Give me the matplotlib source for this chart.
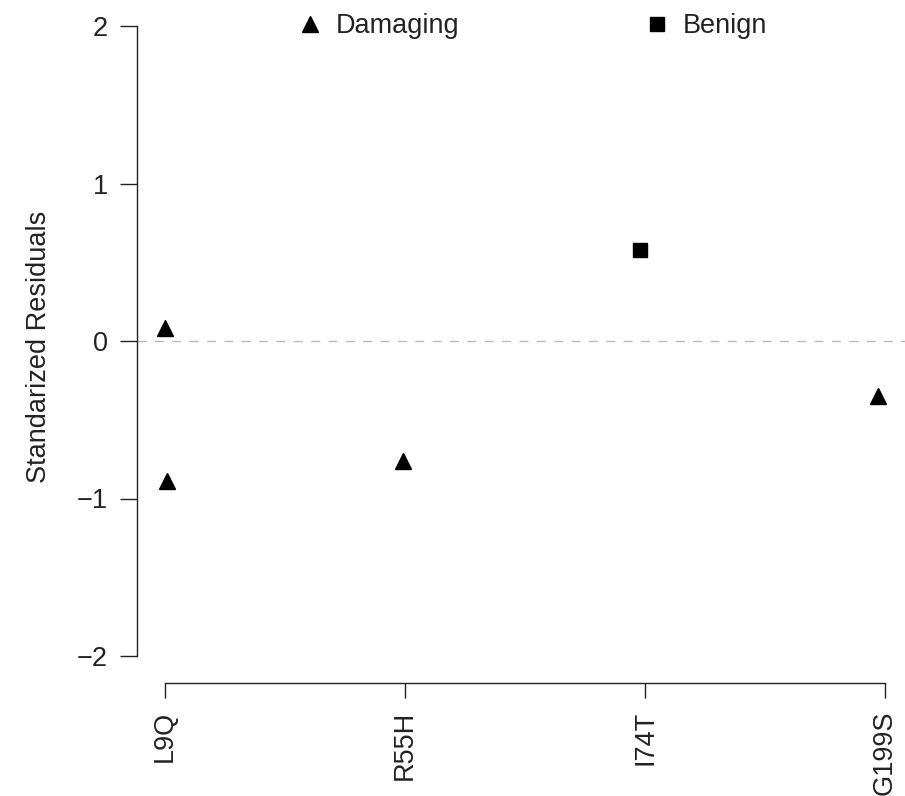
import numpy as np
import matplotlib
matplotlib.use('Agg')
from matplotlib import pyplot as plt
from matplotlib.lines import Line2D

plt.rcParams['font.family'] = ['Liberation Sans', 'DejaVu Sans']
plt.rcParams['lines.scale_dashes'] = False

# mutations on the x axis
mutations = ['L9Q', 'R55H', 'I74T', 'G199S']

# points (x is position along the mutation axis, 1-based)
damaging_x = [1.00, 1.01, 1.99, 3.97]
damaging_y = [0.08, -0.89, -0.76, -0.35]
benign_x = [2.98]
benign_y = [0.58]

txt = '#222222'
fs = 19.5
W, H = 905, 796
fig = plt.figure(figsize=(W / 100, H / 100), dpi=100)
ax = fig.add_axes([137 / W, (796 - 683) / H, 1 - 137 / W, (683 - 10) / H])

ax.axhline(0, color='#bbbbbb', lw=1.0, dashes=(6.5, 6))
ax.plot(damaging_x, damaging_y, '^', color='black', ms=11.5, ls='none')
ax.plot(benign_x, benign_y, 's', color='black', ms=10, ls='none')

ax.set_xlim(1 - 28 / 240, 4 + 20 / 240)
ax.set_ylim(-2 - 27 / 157.5, 2 + 16 / 157.5)

for s in ['top', 'right']:
    ax.spines[s].set_visible(False)
ax.spines['left'].set_bounds(-2, 2)
ax.spines['bottom'].set_bounds(1, 4)
for s in ['left', 'bottom']:
    ax.spines[s].set_linewidth(1.0)
    ax.spines[s].set_color('#222222')

ax.set_yticks([-2, -1, 0, 1, 2])
ax.set_yticklabels(['\u22122', '\u22121', '0', '1', '2'])
ax.set_xticks(range(1, len(mutations) + 1))
ax.set_xticklabels(mutations, rotation=90)
ax.tick_params(axis='y', length=12, width=1.0, pad=9, labelsize=fs, colors='#222222', labelcolor=txt)
ax.tick_params(axis='x', length=11, width=1.0, pad=9, labelsize=fs, colors='#222222', labelcolor=txt)

ax.set_ylabel('Standarized Residuals', fontsize=fs, color=txt, labelpad=18)

handles = [Line2D([], [], marker='^', color='black', ls='none', ms=11.5),
           Line2D([], [], marker='s', color='black', ms=10, ls='none')]
fig.legend(handles, ['Damaging', 'Benign'], ncol=2, frameon=False,
           loc='center left', bbox_to_anchor=(296 / W, 1 - 26 / H),
           borderpad=0, borderaxespad=0, handlelength=1.0, handletextpad=0.47,
           columnspacing=6.78, fontsize=fs, labelcolor=txt)

fig.savefig('out.png', dpi=100)
